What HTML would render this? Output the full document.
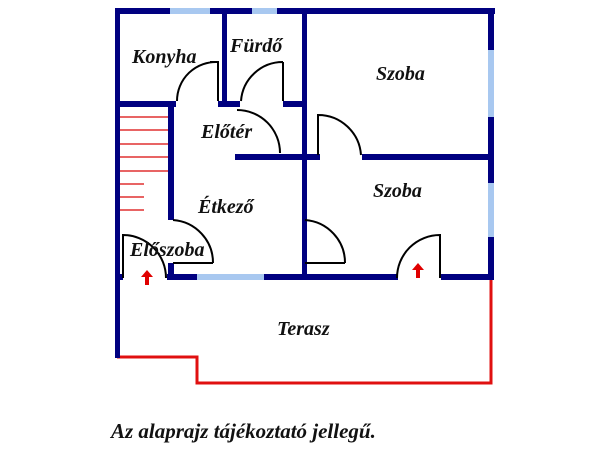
<!DOCTYPE html>
<html><head><meta charset="utf-8"><style>
body{margin:0;background:#fff;width:600px;height:450px;overflow:hidden}
text{font-family:"Liberation Serif",serif;font-style:italic;font-weight:bold;fill:#111}
</style></head><body>
<svg width="600" height="450" viewBox="0 0 600 450" xmlns="http://www.w3.org/2000/svg">
<g stroke="#e01010" stroke-width="3" fill="none">
<polyline points="117,357 197,357 197,383 491,383 491,280"/>
</g>
<g stroke="#e03030" stroke-width="1.5">
<line x1="120" y1="117" x2="168" y2="117"/><line x1="120" y1="130" x2="168" y2="130"/>
<line x1="120" y1="144" x2="168" y2="144"/><line x1="120" y1="157" x2="168" y2="157"/>
<line x1="120" y1="171" x2="168" y2="171"/><line x1="120" y1="184" x2="144" y2="184"/>
<line x1="120" y1="197" x2="144" y2="197"/><line x1="120" y1="210" x2="144" y2="210"/>
</g>
<g fill="#000080">
<rect x="115" y="8" width="380" height="6"/>
<rect x="115" y="8" width="5" height="350"/>
<rect x="488" y="8" width="6" height="272"/>
<rect x="222" y="8" width="5" height="99"/>
<rect x="302" y="8" width="5" height="272"/>
<rect x="115" y="101" width="61" height="6"/>
<rect x="218" y="101" width="22" height="6"/>
<rect x="283" y="101" width="24" height="6"/>
<rect x="235" y="154" width="85" height="6"/>
<rect x="362" y="154" width="130" height="6"/>
<rect x="168" y="101" width="6" height="119"/>
<rect x="168" y="263" width="6" height="17"/>
<rect x="167" y="274" width="231" height="6"/>
<rect x="441" y="274" width="53" height="6"/>
<rect x="115" y="274" width="8" height="6"/>
</g>
<g fill="#a8c8f0">
<rect x="170" y="8" width="40" height="6"/>
<rect x="252" y="8" width="25" height="6"/>
<rect x="488" y="50" width="6" height="67"/>
<rect x="488" y="183" width="6" height="54"/>
<rect x="197" y="274" width="67" height="6"/>
</g>
<g stroke="#000" stroke-width="2" fill="none">
<path d="M210,62 H218 V101 M218,62 A39,39 0 0 0 177,101"/>
<path d="M283,62 V101 M283,62 A42,42 0 0 0 241,101"/>
<path d="M237,110 A43,43 0 0 1 280,153"/>
<path d="M318,155 V115 A43,43 0 0 1 361,155"/>
<path d="M305,263 H345 M305,220 A43,43 0 0 1 345,263"/>
<path d="M173,263 H213 M173,220 A43,43 0 0 1 213,263"/>
<path d="M123,278 V235 A43,43 0 0 1 166,278"/>
<path d="M440,278 V235 A43,43 0 0 0 397,278"/>
</g>
<g fill="#e00000">
<path d="M147,270 L141,277 H145 V285 H149 V277 H153 Z"/>
<path d="M418,263 L412,270 H416 V278 H420 V270 H424 Z"/>
</g>
<g font-size="20">
<text x="132" y="63">Konyha</text>
<text x="230" y="52">Fürdő</text>
<text x="376" y="80">Szoba</text>
<text x="201" y="138">Előtér</text>
<text x="373" y="197">Szoba</text>
<text x="198" y="213">Étkező</text>
<text x="130" y="256">Előszoba</text>
<text x="277" y="335">Terasz</text>
<text x="111" y="438" font-size="21">Az alaprajz tájékoztató jellegű.</text>
</g>
</svg>
</body></html>
